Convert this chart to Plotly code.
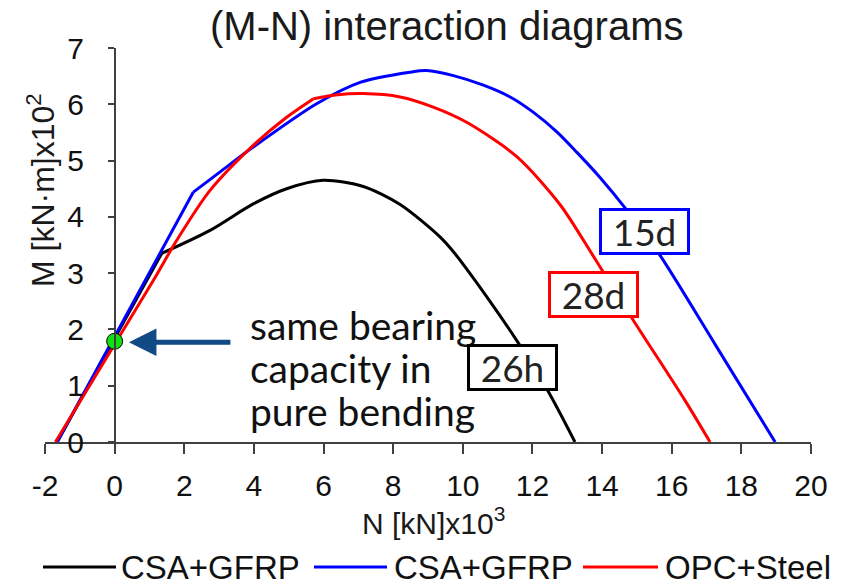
import plotly.graph_objects as go

# ---- data ----
n_26h = [-1.65, 1.35, 2.74, 3.98, 4.94, 5.99, 7.14, 8.20, 9.35, 9.73, 10.78, 11.55, 12.45, 13.22]
m_26h = [0.00, 3.35, 3.76, 4.23, 4.50, 4.65, 4.54, 4.22, 3.64, 3.38, 2.50, 1.80, 0.90, 0.00]
kink_26h = 1   # index of the corner point

n_15d = [-1.65, 2.26, 3.03, 3.98, 5.80, 7.05, 8.48, 8.96, 9.73, 10.59, 11.36, 12.02, 12.70, 13.27, 13.94, 14.71, 15.66, 17.29, 18.97]
m_15d = [0.00, 4.44, 4.80, 5.24, 6.01, 6.39, 6.57, 6.60, 6.51, 6.34, 6.13, 5.86, 5.51, 5.15, 4.70, 4.12, 3.32, 1.69, 0.00]
kink_15d = 1

n_28d = [-1.70, 1.11, 1.78, 2.74, 3.98, 4.94, 5.71, 6.40, 7.14, 8.20, 9.15, 10.11, 11.55, 12.79, 13.75, 14.90, 16.38, 17.10]
m_28d = [0.00, 2.87, 3.58, 4.47, 5.27, 5.77, 6.10, 6.17, 6.19, 6.13, 5.95, 5.68, 5.07, 4.22, 3.30, 2.16, 0.74, 0.00]
kink_28d = 6

pure_bending_n = [0.0]
pure_bending_m = [1.79]

x_ticks = list(range(-2, 21, 2))
x_ticktext = [str(v) for v in x_ticks]
y_ticks = list(range(0, 8, 1))

legend_names = ["CSA+GFRP", "CSA+GFRP", "OPC+Steel"]
color_26h, color_15d, color_28d = "#000000", "#0000FF", "#FF0000"
note_lines = ["same bearing", "capacity in", "pure bending"]

# ---- figure ----
W, H = 851, 586
ml, mr, mt, mb = 45, 40, 48, 144
pw, ph = W - ml - mr, H - mt - mb

def px_x(p):  # pixel -> paper x
    return (p - ml) / pw

def px_y(p):  # pixel -> paper y
    return (H - mb - p) / ph

fig = go.Figure()
for n, m, k, c, name in [(n_26h, m_26h, kink_26h, color_26h, legend_names[0]),
                         (n_15d, m_15d, kink_15d, color_15d, legend_names[1]),
                         (n_28d, m_28d, kink_28d, color_28d, legend_names[2])]:
    # part before the corner and part after it, each smoothed on its own
    fig.add_trace(go.Scatter(x=n[:k + 1], y=m[:k + 1], mode="lines", name=name,
                             line=dict(color=c, width=3, shape="spline", smoothing=0.8),
                             showlegend=False))
    fig.add_trace(go.Scatter(x=n[k:], y=m[k:], mode="lines", name=name,
                             line=dict(color=c, width=3, shape="spline", smoothing=0.8),
                             showlegend=False))

fig.add_trace(go.Scatter(x=pure_bending_n, y=pure_bending_m, mode="markers",
                         marker=dict(color="#11E011", size=16,
                                     line=dict(color="#000000", width=1)),
                         showlegend=False))

axis_font = dict(family="Liberation Sans, Arial", size=30, color="#111111")
fig.update_layout(
    width=W, height=H,
    margin=dict(l=ml, r=mr, t=mt, b=mb),
    paper_bgcolor="white", plot_bgcolor="white",
    showlegend=False,
    xaxis=dict(range=[-2, 20], tickvals=x_ticks, ticktext=x_ticktext, ticks="outside",
               ticklen=10, tickwidth=1.5, tickcolor="#404040", showline=True,
               linecolor="#404040", linewidth=1.5, showgrid=False, zeroline=False,
               tickfont=axis_font, ticklabelstandoff=6),
    yaxis=dict(range=[0, 7], tickvals=y_ticks, ticks="outside", ticklen=6,
               tickwidth=1.5, tickcolor="#404040", showline=True, linecolor="#404040",
               linewidth=1.5, showgrid=False, zeroline=False, tickfont=axis_font,
               anchor="free", position=2 / 22, ticklabelstandoff=18),
)

annots = []
# title
annots.append(dict(text="(M-N) interaction diagrams", xref="paper", yref="paper",
                   x=px_x(446), y=px_y(26), xanchor="center", yanchor="middle",
                   showarrow=False,
                   font=dict(family="Liberation Sans, Arial", size=40, color="#1a1a1a")))
# axis titles
annots.append(dict(text="N [kN]x10<sup>3</sup>", xref="paper", yref="paper",
                   x=px_x(433), y=px_y(521), xanchor="center", yanchor="middle",
                   showarrow=False,
                   font=dict(family="Liberation Sans, Arial", size=30, color="#1a1a1a")))
annots.append(dict(text="M [kN·m]x10<sup>2</sup>", xref="paper", yref="paper",
                   x=px_x(41), y=px_y(190), xanchor="center", yanchor="middle",
                   textangle=-90, showarrow=False,
                   font=dict(family="Liberation Sans, Arial", size=32, color="#1a1a1a")))
# explanatory text, one annotation per line for the tight line spacing
for line, cy in zip(note_lines, [325, 368, 411]):
    annots.append(dict(text=line, xref="paper", yref="paper",
                       x=px_x(248), y=px_y(cy), xanchor="left", yanchor="middle",
                       showarrow=False,
                       font=dict(family="Lato, Calibri, sans-serif", size=39, color="#111111")))
# arrow
annots.append(dict(text="", x=0.41, y=1.77, xref="x", yref="y", ax=103, ay=0,
                   axref="pixel", ayref="pixel", showarrow=True, arrowhead=2,
                   arrowsize=1.1, arrowwidth=5, arrowcolor="#114A85", standoff=0))
# curve labels
for lbl, col, (cx, cy) in [("26h", color_26h, (512.5, 367.5)),
                           ("28d", color_28d, (593.5, 294.5)),
                           ("15d", color_15d, (644.5, 232))]:
    annots.append(dict(text=lbl, xref="paper", yref="paper", x=px_x(cx), y=px_y(cy),
                       xanchor="center", yanchor="middle", showarrow=False,
                       width=85, height=41, bgcolor="white", bordercolor=col,
                       borderwidth=3, borderpad=0,
                       font=dict(family="Lato, Calibri, sans-serif", size=37, color="#222222")))

# legend (drawn manually to match the wide line samples)
shapes = []
leg_y = 567
for (x0, x1, tx), name, col in zip([(43, 116, 119), (314, 387, 392), (583, 658, 663)],
                                   legend_names, [color_26h, color_15d, color_28d]):
    shapes.append(dict(type="line", xref="paper", yref="paper",
                       x0=px_x(x0), x1=px_x(x1), y0=px_y(leg_y), y1=px_y(leg_y),
                       line=dict(color=col, width=3)))
    annots.append(dict(text=name, xref="paper", yref="paper", x=px_x(tx), y=px_y(leg_y),
                       xanchor="left", yanchor="middle", showarrow=False,
                       font=dict(family="Liberation Sans, Arial", size=33, color="#111111")))

fig.update_layout(annotations=annots, shapes=shapes)
fig.write_html("out.html")
